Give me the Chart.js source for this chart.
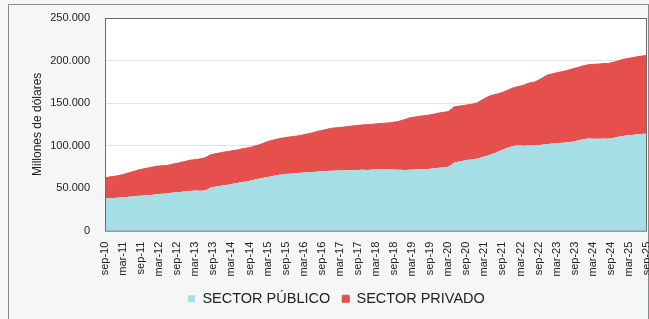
<!DOCTYPE html>
<html>
<head>
<meta charset="utf-8">
<script src="https://cdn.jsdelivr.net/npm/chart.js@4.4.1/dist/chart.umd.min.js"></script>
<style>
  html, body { margin: 0; padding: 0; background: #f5f7f7; }
  #wrap { position: relative; width: 649px; height: 319px; }
  #frame { position: absolute; left: 8px; top: 4px; width: 641px; height: 316px; border: 1px solid #8a8a8a; box-sizing: border-box; }
  canvas { position: absolute; left: 0; top: 0; }
</style>
</head>
<body>
<div id="wrap">
  <div id="frame"></div>
  <canvas id="deudaChart" width="649" height="319"></canvas>
</div>
<script>
// Monthly stock by sector, sep-10 .. sep-25 (thousands of US$ millions)
const monthNames = ["ene", "feb", "mar", "abr", "may", "jun", "jul", "ago", "sep", "oct", "nov", "dic"];
const startYear = 2010;
const startMonth = 8; // sep

const sectorPublico = [
  38.0, 38.2, 38.5, 38.4,
  38.8, 39.1, 39.5, 39.6, 39.9, 40.2, 40.4, 40.9, 41.0, 41.3, 41.6, 42.0,
  42.3, 42.8, 43.1, 43.3, 43.6, 44.0, 44.6, 45.0, 45.2, 45.5, 45.9, 46.3,
  46.7, 46.9, 47.1, 46.8, 47.0, 47.3, 48.5, 50.8, 51.4, 51.9, 52.4, 53.0,
  53.6, 54.1, 54.8, 55.3, 56.0, 56.8, 57.3, 58.0, 58.6, 59.2, 60.3, 60.9,
  61.6, 62.4, 63.2, 63.8, 64.5, 65.0, 65.6, 66.1, 66.7, 67.0, 67.3, 67.6,
  67.8, 68.0, 68.3, 68.5, 68.6, 68.9, 69.2, 69.5, 69.8, 70.0, 70.2, 70.4,
  70.5, 70.6, 70.8, 70.7, 70.9, 71.0, 71.2, 71.1, 71.3, 71.5, 71.6, 71.4,
  71.7, 71.9, 72.0, 72.2, 72.1, 72.3, 72.0, 71.8, 72.0, 71.7, 71.5, 71.4,
  71.3, 71.5, 71.6, 71.8, 72.1, 72.4, 72.6, 72.5, 72.9, 73.2, 73.6, 74.0,
  74.3, 74.6, 75.0, 77.5, 80.0, 80.8, 81.5, 82.3, 83.0, 83.4, 83.8, 84.2,
  85.0, 86.2, 87.1, 88.0, 89.4, 90.8, 92.0, 93.6, 95.0, 96.5, 97.8, 99.0,
  99.8, 100.2, 100.0, 99.8, 100.1, 100.3, 100.0, 100.2, 100.5, 101.0, 101.5, 102.0,
  102.2, 102.5, 102.8, 103.0, 103.3, 103.6, 104.0, 104.5, 105.2, 106.0, 106.8, 107.5,
  108.0, 108.2, 108.1, 108.0, 107.9, 108.1, 108.3, 108.0, 108.5, 109.2, 110.0, 110.8,
  111.3, 111.8, 112.1, 112.5, 112.9, 113.2, 113.5, 113.8, 114.0
];

const sectorPrivado = [
  24.0, 24.5, 25.0, 25.3,
  25.6, 26.0, 26.5, 27.4, 28.2, 28.9, 29.6, 30.4, 31.0, 31.5, 31.9, 32.3,
  32.6, 33.0, 32.8, 33.1, 32.7, 33.0, 33.2, 33.6, 34.0, 34.5, 35.0, 35.4,
  36.0, 36.2, 36.5, 37.2, 37.8, 38.1, 38.6, 38.2, 38.5, 38.7, 38.9, 39.0,
  39.1, 38.9, 39.0, 39.2, 38.8, 39.0, 39.3, 39.1, 39.2, 39.4, 39.5, 39.8,
  40.3, 40.9, 41.5, 42.0, 42.2, 42.4, 42.6, 42.7, 42.9, 43.0, 43.1, 43.3,
  43.6, 44.0, 44.5, 45.1, 45.7, 46.3, 46.9, 47.5, 48.0, 48.6, 49.2, 49.8,
  50.1, 50.4, 50.6, 50.9, 51.2, 51.5, 51.8, 52.1, 52.4, 52.6, 52.8, 53.0,
  53.1, 53.3, 53.5, 53.7, 53.9, 54.1, 54.6, 55.2, 55.6, 56.3, 57.5, 58.6,
  59.8, 61.0, 61.5, 61.8, 62.0, 62.3, 62.6, 63.0, 63.3, 63.6, 64.0, 64.3,
  64.6, 64.8, 65.0, 65.3, 65.5, 65.2, 65.0, 64.8, 64.6, 64.9, 65.0, 65.2,
  66.0, 67.0, 68.0, 69.0, 69.3, 68.8, 68.4, 67.9, 67.3, 67.5, 67.8, 68.2,
  68.6, 69.0, 70.0, 71.2, 72.3, 73.4, 74.3, 75.0, 76.5, 78.0, 79.5, 81.0,
  81.6, 82.2, 82.8, 83.3, 83.8, 84.3, 85.0, 85.3, 85.6, 85.8, 86.1, 86.4,
  86.7, 87.0, 87.4, 87.6, 87.9, 88.1, 88.3, 88.5, 88.7, 88.9, 89.2, 89.5,
  89.8, 90.2, 90.5, 90.8, 91.1, 91.4, 91.6, 91.8, 92.0
];

const yTicks = [0, 50000, 100000, 150000, 200000, 250000];

// month labels like "sep-10"
const labels = sectorPublico.map((_, i) => {
  const m = (startMonth + i) % 12;
  const y = startYear + Math.floor((startMonth + i) / 12);
  return monthNames[m] + "-" + String(y).slice(2);
});

// white plot area with a frame on all four sides
const plotBorder = {
  id: "plotBorder",
  beforeDraw(chart) {
    const { ctx, chartArea: a } = chart;
    ctx.save();
    ctx.fillStyle = "#ffffff";
    ctx.fillRect(a.left, a.top, a.right - a.left, a.bottom - a.top);
    ctx.restore();
  },
  afterDraw(chart) {
    const { ctx, chartArea: a } = chart;
    ctx.save();
    ctx.strokeStyle = "#6b6b6b";
    ctx.lineWidth = 1;
    ctx.strokeRect(a.left + 0.5, a.top + 0.5, a.right - a.left - 1, a.bottom - a.top);
    ctx.restore();
  }
};

const fmt = v => String(v).replace(/\B(?=(\d{3})+(?!\d))/g, ".");
const FONT = "'Liberation Sans', Arial";

new Chart(document.getElementById("deudaChart"), {
  type: "line",
  data: {
    labels: labels,
    datasets: [
      {
        label: "SECTOR PÚBLICO",
        data: sectorPublico.map(v => v * 1000),
        backgroundColor: "#a6dee5",
        borderColor: "#a6dee5",
        borderWidth: 0,
        pointRadius: 0,
        fill: "origin",
        tension: 0
      },
      {
        label: "SECTOR PRIVADO",
        data: sectorPrivado.map(v => v * 1000),
        backgroundColor: "#e5504d",
        borderColor: "#d9504e",
        borderWidth: 1,
        pointRadius: 0,
        fill: "-1",
        tension: 0
      }
    ]
  },
  options: {
    responsive: false,
    animation: false,
    layout: { padding: { top: 18, right: 2, left: 26, bottom: 3 } },
    plugins: {
      legend: {
        position: "bottom",
        labels: {
          boxWidth: 7,
          boxHeight: 7,
          padding: 12,
          color: "#222",
          font: { family: FONT, size: 14.5 }
        }
      },
      tooltip: { enabled: false }
    },
    scales: {
      x: {
        grid: { display: false },
        border: { display: false },
        // let the plot run to the right edge, last label gets clipped like the original
        afterFit: s => { s.paddingRight = 0; s.paddingLeft = 0; },
        ticks: {
          autoSkip: false,
          maxRotation: 90,
          minRotation: 90,
          padding: 3,
          color: "#222",
          font: { family: FONT, size: 11 },
          callback: function (val, i) {
            return i % 6 === 0 ? labels[i] : null;
          }
        }
      },
      y: {
        stacked: true,
        min: 0,
        max: 250000,
        afterBuildTicks: axis => { axis.ticks = yTicks.map(v => ({ value: v })); },
        afterFit: s => { s.width = 79; s.paddingTop = 0; s.paddingBottom = 0; },
        grid: { color: "#e2e2e2", drawTicks: false },
        border: { display: false },
        title: {
          display: true,
          text: "Millones de dólares",
          color: "#222",
          padding: { top: 4, bottom: 0 },
          font: { family: FONT, size: 12 }
        },
        ticks: {
          padding: 15,
          color: "#222",
          font: { family: "'Liberation Sans Narrow', 'Liberation Sans', Arial", size: 11 },
          callback: v => fmt(v)
        }
      }
    }
  },
  plugins: [plotBorder]
});
</script>
</body>
</html>
